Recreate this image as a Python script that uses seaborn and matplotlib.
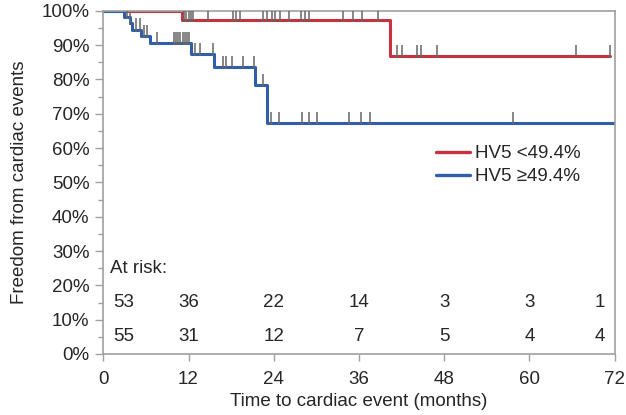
import numpy as np
import pandas as pd
import seaborn as sns
import matplotlib.pyplot as plt
from matplotlib.ticker import MultipleLocator, PercentFormatter

# Kaplan-Meier steps (months, % event-free after the step)
groups = ["HV5 <49.4%", "HV5 \u226549.4%"]

red_event_months = [0, 11.1, 40.4]
red_event_surv = [100, 97.4, 86.7]
red_end_month = 71.4
red_censor = [11.4, 11.7, 12.0, 12.3, 12.6, 14.8, 18.2, 18.7, 19.3, 22.5, 23.1,
              23.7, 24.2, 24.9, 26.1, 27.9, 28.4, 28.9, 33.8, 35.1, 36.4, 38.7,
              41.4, 42.0, 44.1, 44.7, 47.0, 66.6, 71.4]

blue_event_months = [0, 2.9, 3.7, 4.0, 5.3, 6.6, 12.3, 15.6, 21.4, 23.0]
blue_event_surv = [100, 98.2, 96.4, 94.5, 92.6, 90.6, 87.3, 83.6, 78.4, 67.2]
blue_end_month = 72
blue_censor = [3.3, 3.8, 4.6, 5.1, 5.7, 6.2, 7.6, 9.9, 10.2, 10.5, 10.8, 11.2,
               11.5, 11.8, 12.0, 12.9, 13.6, 15.5, 16.9, 17.3, 18.1, 19.6, 21.2,
               22.5, 23.6, 24.8, 28.0, 29.0, 30.1, 34.6, 36.3, 37.5, 57.7]

risk_months = [0, 12, 24, 36, 48, 60, 72]
risk_red = [53, 36, 22, 14, 3, 3, 1]
risk_blue = [55, 31, 12, 7, 5, 4, 4]

colors = ["#C8323E", "#2F5EAA"]
FS = 13.5


def step_frame(name, months, surv, end):
    t = list(months) + [end]
    s = list(surv) + [surv[-1]]
    return pd.DataFrame({"month": t, "surv": s, "group": name})


def surv_at(months, surv, times):
    idx = np.searchsorted(months, times, side="right") - 1
    return np.asarray(surv)[idx]


df = pd.concat([
    step_frame(groups[0], red_event_months, red_event_surv, red_end_month),
    step_frame(groups[1], blue_event_months, blue_event_surv, blue_end_month),
], ignore_index=True)

sns.set_style("white")
plt.rcParams["font.family"] = ["Liberation Sans", "DejaVu Sans"]

fig, ax = plt.subplots(figsize=(6.26, 4.15), dpi=100)
fig.subplots_adjust(left=0.165, right=0.982, top=0.974, bottom=0.147)

sns.lineplot(data=df, x="month", y="surv", hue="group", hue_order=groups,
             palette=colors, drawstyle="steps-post", estimator=None, sort=False,
             linewidth=2.2, ax=ax)

# censor marks
for months, surv, cens in [(red_event_months, red_event_surv, red_censor),
                           (blue_event_months, blue_event_surv, blue_censor)]:
    lv = surv_at(months, surv, cens)
    ax.vlines(cens, lv - 0.6, lv + 3.3, color="#666666", linewidth=1.1, zorder=5)

leg = ax.get_legend()
handles = leg.legend_handles
labels = [t.get_text() for t in leg.get_texts()]
for h in handles:
    h.set_linewidth(2.4)
ax.legend(handles, labels, loc="center left", bbox_to_anchor=(0.632, 0.55),
          frameon=False, fontsize=FS, handlelength=1.8, handletextpad=0.27,
          borderpad=0, labelspacing=0.3)

# at-risk table
ax.text(1.0, 25, "At risk:", fontsize=FS, va="center", ha="left")
for i, m in enumerate(risk_months):
    xpos = m
    if i == 0:
        xpos = m + 2.9
    elif i == len(risk_months) - 1:
        xpos = m - 2.1
    ax.text(xpos, 15, str(risk_red[i]), fontsize=FS, ha="center", va="center")
    ax.text(xpos, 5, str(risk_blue[i]), fontsize=FS, ha="center", va="center")

ax.set_xlim(0, 72)
ax.set_ylim(0, 100)
ax.xaxis.set_major_locator(MultipleLocator(12))
ax.yaxis.set_major_locator(MultipleLocator(10))
ax.yaxis.set_minor_locator(MultipleLocator(5))
ax.yaxis.set_major_formatter(PercentFormatter(decimals=0))

for side in ["left", "right", "top", "bottom"]:
    ax.spines[side].set_color("#A0A0A0")
    ax.spines[side].set_linewidth(1.2)

ax.tick_params(axis="y", which="major", direction="out", length=6, width=1,
               color="#A0A0A0", labelsize=FS, pad=4, left=True)
ax.tick_params(axis="y", which="minor", direction="out", length=3.5, width=1,
               color="#A0A0A0", left=True)
ax.tick_params(axis="x", which="major", direction="out", length=5, width=1,
               color="#A0A0A0", labelsize=FS, pad=7, bottom=True)

ax.set_xlabel("Time to cardiac event (months)", fontsize=FS, labelpad=4)
ax.set_ylabel("Freedom from cardiac events", fontsize=FS, labelpad=10)

fig.savefig("out.png", dpi=100)
